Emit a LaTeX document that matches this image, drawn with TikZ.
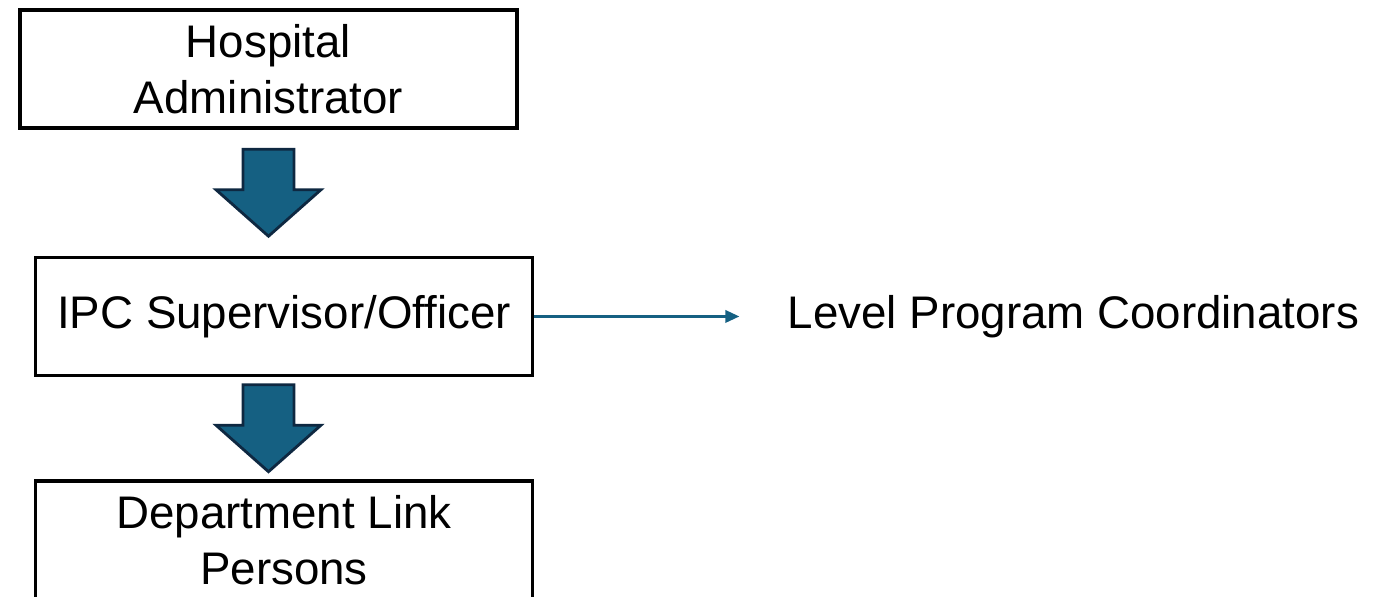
\documentclass[tikz,border=0pt]{standalone}
\usepackage{fontspec}
\setmainfont{Liberation Sans}
\usetikzlibrary{arrows.meta,positioning,calc}
\definecolor{ArrowBlue}{HTML}{156082}
\definecolor{ArrowEdge}{HTML}{0E2841}

\begin{document}
\begin{tikzpicture}[x=0.02cm,y=-0.02cm,>={Triangle[length=8pt,width=7pt]},
    every node/.style={font=\fontsize{26}{31.7}\selectfont},
    box/.style={draw,line width=2pt,minimum width=9.95cm,minimum height=2.36cm,align=center,inner sep=0pt},
    blockarrow/.style={draw=ArrowEdge,fill=ArrowBlue,line width=1.6pt,line join=miter},
    downblock/.pic={\draw[blockarrow] (-25.5,-43.5) -- (25.5,-43.5) -- (25.5,-3) -- (52.5,-3) -- (0,43.5) -- (-52.5,-3) -- (-25.5,-3) -- cycle;}]

  \useasboundingbox (0,0) rectangle (1380,597);

  \node[box] (admin) at (268.5,69) {Hospital\\Administrator};
  \node[box] (ipc) [below=2.52cm of admin, xshift=0.31cm] {IPC Supervisor/Officer};
  \node[box] (dept) [below=2.04cm of ipc] {Department Link\\Persons};
  \node (level) [right=5.06cm of ipc, inner sep=0pt] {Level Program Coordinators};

  % big arrows down the chain
  \pic at ($(admin.south)!0.5!(admin.south |- ipc.north)$) {downblock};
  \pic at ($(admin.south |- ipc.south)!0.5!(admin.south |- dept.north)$) {downblock};

  \draw[->,ArrowBlue,line width=1.5pt] (ipc.east) -- ([xshift=-0.96cm]level.west);
\end{tikzpicture}
\end{document}
